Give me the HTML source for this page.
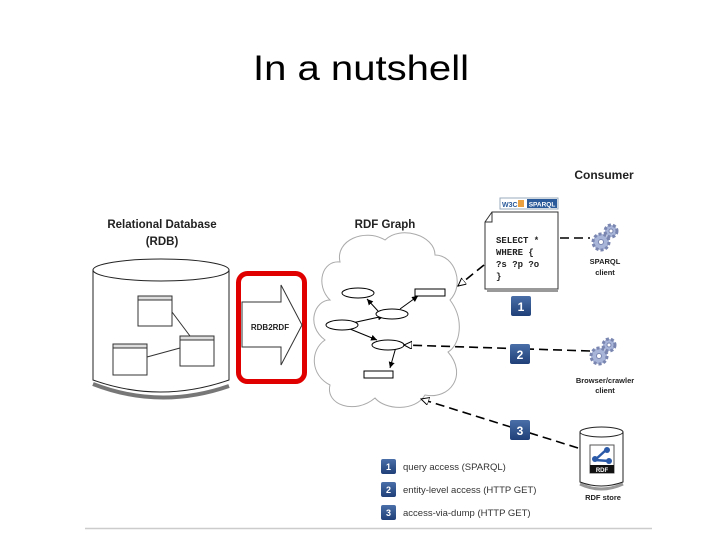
<!DOCTYPE html>
<html><head><meta charset="utf-8"><style>
html,body{margin:0;padding:0;background:#fff;}
svg{display:block;}
</style></head><body>
<svg width="720" height="540" viewBox="0 0 720 540" xmlns="http://www.w3.org/2000/svg" font-family="Liberation Sans, sans-serif">
<defs>
<marker id="tri" markerWidth="10" markerHeight="10" refX="8" refY="4" orient="auto" markerUnits="userSpaceOnUse"><path d="M0,0 L8,4 L0,8 Z" fill="#fff" stroke="#000" stroke-width="1"/></marker>
<marker id="ar" markerWidth="8" markerHeight="8" refX="6" refY="3" orient="auto" markerUnits="userSpaceOnUse"><path d="M0,0 L6,3 L0,6 Z" fill="#000"/></marker>
<linearGradient id="bg" x1="0" y1="0" x2="0" y2="1"><stop offset="0" stop-color="#4a6fa8"/><stop offset="1" stop-color="#1f3f78"/></linearGradient>
</defs>
<text x="253" y="80" font-size="35" textLength="216" lengthAdjust="spacingAndGlyphs" fill="#000">In a nutshell</text>

<!-- RDB -->
<text x="162" y="228" font-size="11.5" font-weight="bold" text-anchor="middle" fill="#222">Relational Database</text>
<text x="162" y="245" font-size="11.5" font-weight="bold" text-anchor="middle" fill="#222">(RDB)</text>
<path d="M93,384 Q160,410 229,386" fill="none" stroke="#777" stroke-width="4"/>
<path d="M93,270 L93,380 Q160,404 229,380 L229,270" fill="#fff" stroke="#222"/>
<ellipse cx="161" cy="270" rx="68" ry="11" fill="#fff" stroke="#222"/>
<g fill="#fff" stroke="#333" stroke-width="1">
<rect x="138" y="296" width="34" height="30"/><rect x="138" y="296" width="34" height="4" fill="#ddd"/>
<rect x="180" y="336" width="34" height="30"/><rect x="180" y="336" width="34" height="4" fill="#ddd"/>
<rect x="113" y="344" width="34" height="31"/><rect x="113" y="344" width="34" height="4" fill="#ddd"/>
<line x1="172" y1="312" x2="190" y2="336"/><line x1="147" y1="357" x2="180" y2="348"/>
</g>

<!-- RDB2RDF -->
<rect x="238.5" y="273.5" width="66" height="108" rx="9" fill="none" stroke="#e00000" stroke-width="5"/>
<path d="M242,302 L281,302 L281,285 L302,325 L281,365 L281,347 L242,347 Z" fill="#fff" stroke="#333"/>
<text x="270" y="330" font-size="8" font-weight="bold" text-anchor="middle" fill="#222">RDB2RDF</text>

<!-- cloud -->
<text x="385" y="228" font-size="11.5" font-weight="bold" text-anchor="middle" fill="#222">RDF Graph</text>
<path d="M340,262 C335,240 365,228 385,240 C400,225 435,235 435,255 C455,255 465,285 450,300 C465,320 460,345 448,352 C468,375 450,400 425,395 C415,412 385,410 375,398 C355,415 325,405 330,385 C310,375 310,350 325,340 C305,325 315,300 330,300 C315,285 322,260 340,262 Z" fill="#fff" stroke="#aaa"/>
<g stroke="#000" fill="#fff" stroke-width="1">
<line x1="378" y1="311" x2="367" y2="299" marker-end="url(#ar)"/>
<line x1="400" y1="309" x2="418" y2="296" marker-end="url(#ar)"/>
<line x1="352" y1="323" x2="384" y2="316" marker-end="url(#ar)"/>
<line x1="350" y1="329" x2="377" y2="340" marker-end="url(#ar)"/>
<line x1="396" y1="347" x2="390" y2="368" marker-end="url(#ar)"/>
<ellipse cx="358" cy="293" rx="16" ry="5"/>
<ellipse cx="392" cy="314" rx="16" ry="5"/>
<ellipse cx="342" cy="325" rx="16" ry="5"/>
<ellipse cx="388" cy="345" rx="16" ry="5"/>
<rect x="415" y="289" width="30" height="7"/>
<rect x="364" y="371" width="29" height="7"/>
</g>

<!-- connectors -->
<g stroke="#000" stroke-width="1.6" stroke-dasharray="9,5" fill="none">
<line x1="484" y1="265" x2="458" y2="286" marker-end="url(#tri)"/>
<line x1="560" y1="238" x2="590" y2="238"/>
<line x1="590" y1="351" x2="404" y2="345" marker-end="url(#tri)"/>
<line x1="578" y1="448" x2="421" y2="399" marker-end="url(#tri)"/>
</g>

<!-- consumer -->
<text x="604" y="179" font-size="12" font-weight="bold" text-anchor="middle" fill="#222">Consumer</text>
<rect x="500" y="198" width="58" height="11" fill="#fff" stroke="#9ab"/>
<text x="502" y="207" font-size="7" fill="#2a5a9a" font-weight="bold">W3C</text>
<rect x="518" y="200" width="6" height="7" fill="#e8a040"/>
<rect x="527" y="199" width="30" height="9" fill="#2a5a9a"/>
<text x="542" y="206.5" font-size="6.5" fill="#fff" font-weight="bold" text-anchor="middle">SPARQL</text>
<path d="M492,212 L558,212 L558,289 L485,289 L485,222 Z" fill="#fff" stroke="#333"/>
<path d="M485,222 L492,222 L492,212" fill="none" stroke="#333"/>
<line x1="487" y1="291" x2="558" y2="291" stroke="#999" stroke-width="2"/>
<g font-family="Liberation Mono, monospace" font-weight="bold" font-size="9" fill="#222">
<text x="496" y="243">SELECT *</text><text x="496" y="255">WHERE {</text><text x="496" y="267">?s ?p ?o</text><text x="496" y="279">}</text>
</g>

<g font-size="7.5" font-weight="bold" fill="#222" text-anchor="middle">
<text x="605" y="264">SPARQL</text><text x="605" y="275">client</text>
<text x="605" y="383">Browser/crawler</text><text x="605" y="393">client</text>
<text x="603" y="500">RDF store</text>
</g>
<!-- gears -->
<g fill="#a8b4d8" stroke="#7a86b0" stroke-width="1">
<circle cx="601" cy="242" r="8" stroke-dasharray="3,2" stroke-width="3"/><circle cx="601" cy="242" r="2.5" fill="#fff"/>
<circle cx="611" cy="231" r="6" stroke-dasharray="3,2" stroke-width="3"/><circle cx="611" cy="231" r="2" fill="#fff"/>
<circle cx="599" cy="356" r="8" stroke-dasharray="3,2" stroke-width="3"/><circle cx="599" cy="356" r="2.5" fill="#fff"/>
<circle cx="609" cy="345" r="6" stroke-dasharray="3,2" stroke-width="3"/><circle cx="609" cy="345" r="2" fill="#fff"/>
</g>
<!-- RDF store -->
<path d="M580,484 Q601,494 623,484" fill="none" stroke="#999" stroke-width="3"/>
<path d="M580,432 L580,482 Q601,490 623,482 L623,432" fill="#fff" stroke="#222"/>
<ellipse cx="601.5" cy="432" rx="21.5" ry="5" fill="#fff" stroke="#222"/>
<rect x="590" y="445" width="24" height="28" fill="#fff" stroke="#555"/>
<rect x="590" y="465" width="24" height="8" fill="#111"/>
<text x="602" y="472" font-size="6" fill="#fff" font-weight="bold" text-anchor="middle">RDF</text>
<g stroke="#2a5aa8" stroke-width="2.5"><line x1="595" y1="460" x2="606" y2="450"/><line x1="595" y1="460" x2="609" y2="461"/></g>
<circle cx="595" cy="459" r="3" fill="#2a5aa8"/><circle cx="607" cy="450" r="3" fill="#2a5aa8"/><circle cx="609" cy="461" r="3" fill="#2a5aa8"/>

<!-- badges -->
<g font-size="12" font-weight="bold" fill="#fff" text-anchor="middle">
<rect x="511" y="296" width="20" height="20" rx="2" fill="url(#bg)"/><text x="521" y="311">1</text>
<rect x="510" y="344" width="20" height="20" rx="2" fill="url(#bg)"/><text x="520" y="359">2</text>
<rect x="510" y="420" width="20" height="20" rx="2" fill="url(#bg)"/><text x="520" y="435">3</text>
</g>
<g font-size="9" font-weight="bold" fill="#fff" text-anchor="middle">
<rect x="381" y="459" width="15" height="15" rx="2" fill="url(#bg)"/><text x="388.5" y="470">1</text>
<rect x="381" y="482" width="15" height="15" rx="2" fill="url(#bg)"/><text x="388.5" y="493">2</text>
<rect x="381" y="505" width="15" height="15" rx="2" fill="url(#bg)"/><text x="388.5" y="516">3</text>
</g>
<g font-size="9.5" fill="#333">
<text x="403" y="470">query access (SPARQL)</text>
<text x="403" y="493">entity-level access (HTTP GET)</text>
<text x="403" y="516">access-via-dump (HTTP GET)</text>
</g>
<line x1="85" y1="528.5" x2="652" y2="528.5" stroke="#ccc" stroke-width="1.5"/>
</svg>
</body></html>
